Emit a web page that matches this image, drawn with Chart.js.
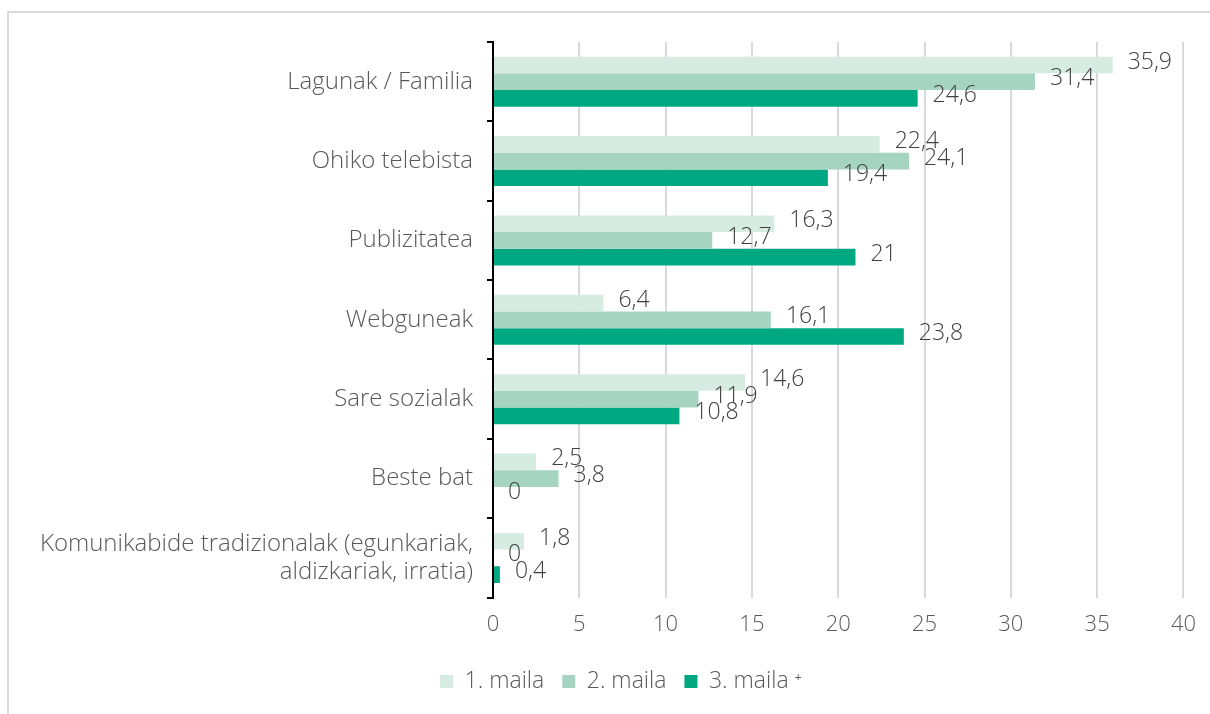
<!DOCTYPE html>
<html>
<head>
<meta charset="utf-8">
<script src="https://cdn.jsdelivr.net/npm/chart.js@4/dist/chart.umd.min.js"></script>
<style>
  html, body { margin: 0; padding: 0; background: #fff; overflow: hidden; }
  #frame { position: absolute; left: 7px; top: 11px; width: 1300px; height: 800px; border: 2px solid #d9d9d9; }
  #wrap { position: absolute; left: 0; top: 0; width: 1210px; height: 714px; }
</style>
</head>
<body>
<div id="frame"></div>
<div id="wrap"><canvas id="mainChart"></canvas></div>
<script>
// DATA //
var categories = [
    "Lagunak / Familia",
    "Ohiko telebista",
    "Publizitatea",
    "Webguneak",
    "Sare sozialak",
    "Beste bat",
    ["Komunikabide tradizionalak (egunkariak,", "aldizkariak, irratia)"]
];
var seriesNames = ["1. maila", "2. maila", "3. maila \u207A"];
var maila1 = [35.9, 22.4, 16.3, 6.4, 14.6, 2.5, 1.8];
var maila2 = [31.4, 24.1, 12.7, 16.1, 11.9, 3.8, 0];
var maila3 = [24.6, 19.4, 21, 23.8, 10.8, 0, 0.4];
var xTicks = [0, 5, 10, 15, 20, 25, 30, 35, 40];

var colors = ["#d6ebe2", "#a5d4c1", "#00a882"];
var fontName = "'Open Sans', Lato, sans-serif";

// VALUE LABELS PLUGIN //
var valueLabels = {
    id: "valueLabels",
    afterDatasetsDraw: function(chart) {
        var ctx = chart.ctx;
        ctx.save();
        ctx.font = "300 23px " + fontName;
        ctx.fillStyle = "#404040";
        ctx.textAlign = "left";
        ctx.textBaseline = "middle";
        chart.data.datasets.forEach(function(ds, i) {
            var meta = chart.getDatasetMeta(i);
            meta.data.forEach(function(bar, j) {
                var txt = String(ds.data[j]).replace(".", ",");
                ctx.fillText(txt, bar.x + 15, bar.y - 3);
            });
        });
        ctx.restore();
    }
};

// nudge legend a bit to the right, like the original
var legendShift = {
    id: "legendShift",
    afterLayout: function(chart) {
        if (chart.legend) { chart.legend.left += 46; }
    }
};

var container = document.getElementById("mainChart");
var mainChart = new Chart(container, {
    type: 'bar',
    data: {
        labels: categories,
        datasets: [
            {label: seriesNames[0], data: maila1, backgroundColor: colors[0]},
            {label: seriesNames[1], data: maila2, backgroundColor: colors[1]},
            {label: seriesNames[2], data: maila3, backgroundColor: colors[2]}
        ]
    },
    options: {
        indexAxis: 'y',
        responsive: true,
        maintainAspectRatio: false,
        animation: false,
        categoryPercentage: 0.63,
        barPercentage: 1,
        layout: {
            padding: {left: 10, right: 24, top: 42, bottom: 11}
        },
        scales: {
            x: {
                min: 0,
                max: 40,
                afterBuildTicks: function(axis) {
                    axis.ticks = xTicks.map(function(v) { return {value: v}; });
                },
                grid: {color: "#d9d9d9", lineWidth: 2, drawTicks: false},
                border: {display: false},
                ticks: {color: "#595959", font: {family: fontName, size: 22, weight: 300}, padding: 14}
            },
            y: {
                grid: {offset: true, drawOnChartArea: false, color: "#000", lineWidth: 2, tickLength: 6},
                border: {color: "#000", width: 2},
                ticks: {color: "#595959", font: {family: fontName, size: 24, weight: 300, lineHeight: 1.15}, padding: 14},
                afterFit: function(axis) { axis.width = 483; }
            }
        },
        plugins: {
            legend: {
                position: 'bottom',
                labels: {
                    color: "#595959",
                    font: {family: fontName, size: 23, weight: 300},
                    boxWidth: 13,
                    boxHeight: 13,
                    padding: 18
                }
            },
            tooltip: {enabled: false}
        }
    },
    plugins: [valueLabels, legendShift]
});
</script>
</body>
</html>
